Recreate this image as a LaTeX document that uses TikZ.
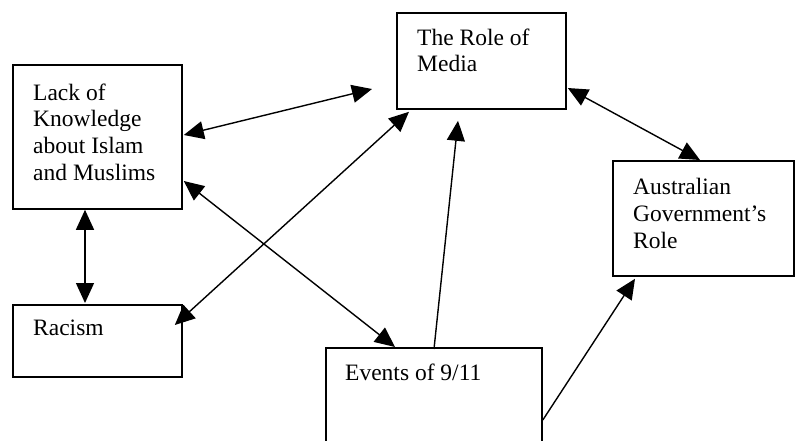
\documentclass[tikz,border=0pt]{standalone}
\usepackage{fontspec}
\setmainfont{Liberation Serif}
\usetikzlibrary{arrows.meta}
\begin{document}
\begin{tikzpicture}[x=1pt,y=-1pt,
  box/.style={draw, line width=1.8pt, inner sep=0pt, anchor=north west},
  txt/.style={anchor=north west, inner sep=0pt, align=left, font=\fontsize{23.5}{26.7}\selectfont},
  tipA/.tip={Triangle[length=20pt,width=18pt]},
  link/.style={line width=1.4pt, -tipA},
  dlink/.style={line width=1.4pt, tipA-tipA}]
\useasboundingbox (0,0) rectangle (795,440);
\clip (0,0) rectangle (795,440);
\fill[white] (0,0) rectangle (795,440);
% boxes
\node[box, minimum width=169pt, minimum height=144pt] (lack) at (12,64) {};
\node[box, minimum width=169pt, minimum height=96pt] (media) at (396,12) {};
\node[box, minimum width=181pt, minimum height=115pt] (aus) at (612,160) {};
\node[box, minimum width=169pt, minimum height=72pt] (racism) at (12,304) {};
\node[box, minimum width=216pt, minimum height=130pt] (events) at (325,347) {};
% texts
\node[txt] (lackt) at ([shift={(21,19.4)}]lack.north west) {Lack of\\Knowledge\\about Islam\\and Muslims};
\node[txt] (mediat) at ([shift={(21,16.4)}]media.north west) {The Role of\\Media};
\node[txt] (aust) at ([shift={(21,18.1)}]aus.north west) {Australian\\Government’s\\Role};
\node[txt] (racismt) at ([shift={(21,16.1)}]racism.north west) {Racism};
\node[txt] (eventst) at ([shift={(20,17.1)}]events.north west) {Events of 9/11};
% connectors
\draw[dlink] ([shift={(1,71)}]lack.north east) -- ([shift={(-24,77)}]media.north west);
\draw[dlink] ([shift={(73,0)}]lack.south west) -- ([shift={(73,-1)}]racism.north west);
\draw[dlink] ([shift={(1,117)}]lack.north east) -- ([shift={(70,0)}]events.north west);
\draw[dlink] ([shift={(-8,21)}]racism.north east) -- ([shift={(13,2)}]media.south west);
\draw[link] ([shift={(109,2)}]events.north west) -- ([shift={(62,11)}]media.south west);
\draw[dlink] ([shift={(1,76)}]media.north east) -- ([shift={(88,0)}]aus.north west);
\draw[link] ([shift={(0,73)}]events.north east) -- ([shift={(23,2)}]aus.south west);
\end{tikzpicture}
\end{document}
